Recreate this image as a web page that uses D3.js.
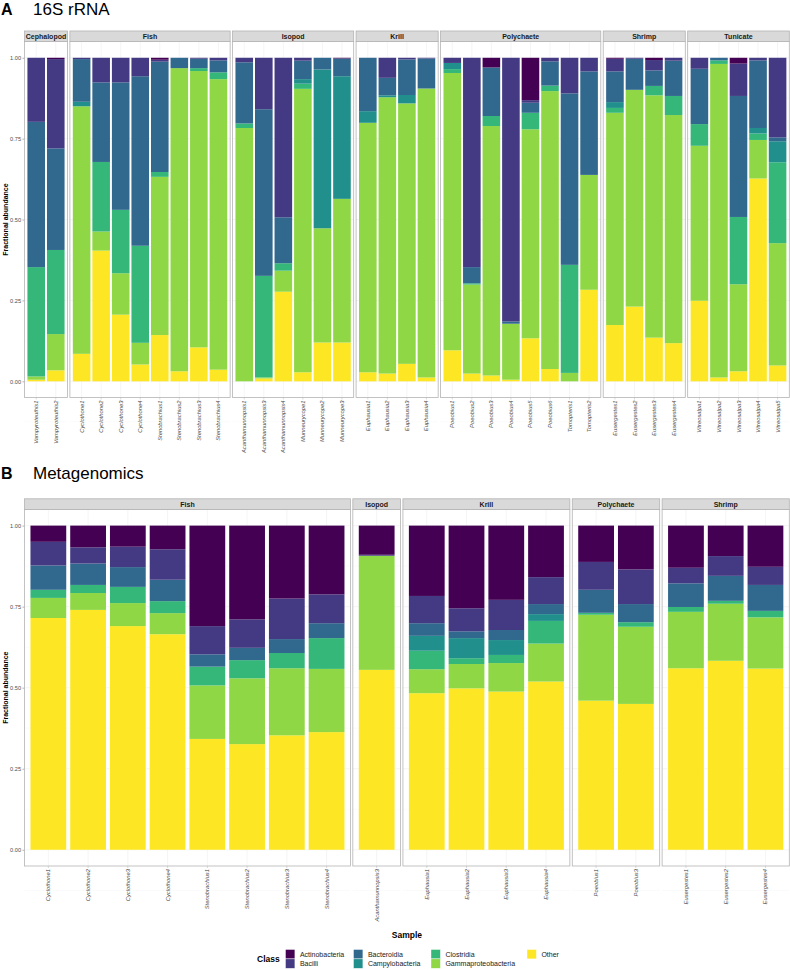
<!DOCTYPE html>
<html>
<head>
<meta charset="utf-8">
<script src="https://cdn.jsdelivr.net/npm/d3@7"></script>
<style>
  body { margin: 0; background: #fff; }
  svg { font-family: "Liberation Sans", Arial, Helvetica, sans-serif; }
</style>
</head>
<body>
<div id="main-frame"></div>
<script>
// classes, stacked top -> bottom
const classes = ["Actinobacteria", "Bacilli", "Bacteroidia", "Campylobacteria", "Clostridia", "Gammaproteobacteria", "Other"];
const classColors = ["#440154", "#443A83", "#31688E", "#21908C", "#35B779", "#8FD744", "#FDE725"];
const yTicks = [0, 0.25, 0.5, 0.75, 1];

// ---- A: 16S rRNA ----
const rnaSamples = ["Vampyroteuthis1", "Vampyroteuthis2",
  "Cyclothone1", "Cyclothone2", "Cyclothone3", "Cyclothone4", "Stenobrachius1", "Stenobrachius2", "Stenobrachius3", "Stenobrachius4",
  "Acanthamunnopsis1", "Acanthamunnopsis3", "Acanthamunnopsis4", "Munneurycope1", "Munneurycope2", "Munneurycope3",
  "Euphausia1", "Euphausia2", "Euphausia3", "Euphausia4",
  "Poeobius1", "Poeobius2", "Poeobius3", "Poeobius4", "Poeobius5", "Poeobius6", "Tomopteris1", "Tomopteris2",
  "Eusergestes1", "Eusergestes2", "Eusergestes3", "Eusergestes4",
  "Vitreosalpa1", "Vitreosalpa2", "Vitreosalpa3", "Vitreosalpa4", "Vitreosalpa5"];
const rnaHosts = ["Cephalopod", "Cephalopod",
  "Fish", "Fish", "Fish", "Fish", "Fish", "Fish", "Fish", "Fish",
  "Isopod", "Isopod", "Isopod", "Isopod", "Isopod", "Isopod",
  "Krill", "Krill", "Krill", "Krill",
  "Polychaete", "Polychaete", "Polychaete", "Polychaete", "Polychaete", "Polychaete", "Polychaete", "Polychaete",
  "Shrimp", "Shrimp", "Shrimp", "Shrimp",
  "Tunicate", "Tunicate", "Tunicate", "Tunicate", "Tunicate"];
const rnaActinobacteria = [0, 0.004, 0, 0, 0, 0, 0.006, 0, 0, 0, 0, 0, 0, 0, 0, 0.002, 0, 0, 0, 0,
  0, 0, 0.03, 0, 0.131, 0, 0, 0, 0.003, 0, 0.007, 0, 0, 0, 0.018, 0, 0];
const rnaBacilli = [0.198, 0.276, 0.004, 0.076, 0.076, 0.057, 0.006, 0, 0.003, 0.008, 0.014, 0.159, 0.493, 0.009, 0, 0,
  0, 0.062, 0.005, 0.002, 0.016, 0.647, 0, 0.815, 0.008, 0.011, 0.11, 0.042, 0.039, 0.003, 0.032, 0.009,
  0.034, 0, 0.1, 0.008, 0.246];
const rnaBacteroidia = [0.449, 0.314, 0.132, 0.246, 0.394, 0.524, 0.341, 0.032, 0.029, 0.037, 0.189, 0.515, 0.142, 0.057, 0.036, 0.055,
  0.165, 0.054, 0.11, 0.093, 0, 0.05, 0.15, 0.007, 0.031, 0.075, 0.53, 0.32, 0.095, 0.096, 0.048, 0.109,
  0.171, 0.008, 0.374, 0.209, 0.012];
const rnaCampylobacteria = [0, 0, 0.014, 0, 0, 0, 0, 0, 0, 0, 0, 0, 0, 0.014, 0.491, 0.379,
  0.036, 0.006, 0.026, 0, 0.019, 0, 0, 0, 0, 0, 0, 0, 0.018, 0, 0, 0,
  0, 0, 0, 0.017, 0.065];
const rnaClostridia = [0.338, 0.26, 0, 0.215, 0.196, 0.3, 0.015, 0, 0.009, 0.021, 0.014, 0.314, 0.023, 0.016, 0, 0,
  0, 0, 0, 0, 0.012, 0.004, 0.031, 0, 0.051, 0.017, 0.334, 0, 0.015, 0, 0.029, 0.059,
  0.067, 0.011, 0.208, 0.02, 0.25];
const rnaGammaproteobacteria = [0.01, 0.112, 0.765, 0.059, 0.128, 0.067, 0.489, 0.937, 0.854, 0.898, 0.783, 0.003, 0.065, 0.876, 0.353, 0.444,
  0.771, 0.854, 0.805, 0.893, 0.857, 0.275, 0.771, 0.173, 0.646, 0.859, 0.026, 0.355, 0.656, 0.67, 0.749, 0.705,
  0.479, 0.969, 0.269, 0.119, 0.378];
const rnaOther = [0.005, 0.034, 0.085, 0.404, 0.206, 0.052, 0.143, 0.031, 0.105, 0.036, 0, 0.009, 0.277, 0.028, 0.12, 0.12,
  0.028, 0.024, 0.054, 0.012, 0.096, 0.024, 0.018, 0.005, 0.133, 0.038, 0, 0.283, 0.174, 0.231, 0.135, 0.118,
  0.249, 0.012, 0.031, 0.627, 0.049];

// ---- B: Metagenomics ----
const mgSamples = ["Cyclothone1", "Cyclothone2", "Cyclothone3", "Cyclothone4", "Stenobrachius1", "Stenobrachius2", "Stenobrachius3", "Stenobrachius4",
  "Acanthamunnopsis3", "Euphausia1", "Euphausia2", "Euphausia3", "Euphausia4", "Poeobius1", "Poeobius3",
  "Eusergestes1", "Eusergestes2", "Eusergestes4"];
const mgHosts = ["Fish", "Fish", "Fish", "Fish", "Fish", "Fish", "Fish", "Fish",
  "Isopod", "Krill", "Krill", "Krill", "Krill", "Polychaete", "Polychaete", "Shrimp", "Shrimp", "Shrimp"];
const mgActinobacteria = [0.05, 0.067, 0.065, 0.073, 0.31, 0.289, 0.225, 0.212, 0.09, 0.217, 0.255, 0.229, 0.159, 0.112, 0.135, 0.13, 0.094, 0.127];
const mgBacilli = [0.073, 0.05, 0.063, 0.094, 0.087, 0.088, 0.125, 0.089, 0.003, 0.084, 0.071, 0.093, 0.083, 0.086, 0.107, 0.048, 0.061, 0.056];
const mgBacteroidia = [0.075, 0.066, 0.061, 0.066, 0.038, 0.038, 0.043, 0.046, 0, 0.039, 0.021, 0.031, 0.031, 0.071, 0.056, 0.073, 0.077, 0.08];
const mgCampylobacteria = [0, 0, 0, 0, 0, 0, 0, 0, 0, 0.046, 0.062, 0.046, 0.021, 0, 0, 0, 0, 0];
const mgClostridia = [0.025, 0.025, 0.05, 0.037, 0.058, 0.056, 0.047, 0.095, 0, 0.057, 0.018, 0.025, 0.07, 0.006, 0.014, 0.015, 0.009, 0.02];
const mgGammaproteobacteria = [0.062, 0.052, 0.071, 0.065, 0.165, 0.203, 0.207, 0.195, 0.352, 0.074, 0.075, 0.088, 0.117, 0.265, 0.238, 0.174, 0.176, 0.158];
const mgOther = [0.715, 0.74, 0.69, 0.665, 0.342, 0.326, 0.353, 0.363, 0.555, 0.483, 0.498, 0.488, 0.519, 0.46, 0.45, 0.56, 0.583, 0.559];

const width = 790, height = 970;
const plotLeft = 24.5, plotRight = 789.3;
const panelGap = 2.4, facetPad = 0.1;
const stripH = 10.6;

const color = d3.scaleOrdinal().domain(classes).range(classColors);

const svg = d3.select("#main-frame")
  .append("svg")
  .attr("width", width)
  .attr("height", height);

function drawPanel(cfg) {
  const { letter, title, titleY, samples, hosts, series, stripTop, panelBottom } = cfg;
  const panelTop = stripTop + stripH;

  const rows = samples.map((s, i) => {
    const r = { sample: s, host: hosts[i] };
    classes.forEach((c, j) => { r[c] = series[j][i]; });
    return r;
  });
  const stacked = d3.stack()
    .keys(classes.slice().reverse())
    .offset(d3.stackOffsetExpand)(rows);

  const groups = Array.from(d3.group(rows, d => d.host), ([host, v]) => ({ host, samples: v.map(d => d.sample) }));
  const k = groups.length;
  const step = (plotRight - plotLeft - panelGap * (k - 1)) / (samples.length + 2 * facetPad * k);

  const y = d3.scaleLinear().domain([-0.05, 1.05]).range([panelBottom, panelTop]);

  // panel title
  svg.append("text").attr("x", 1).attr("y", titleY)
    .attr("font-size", 16).attr("font-weight", "bold").text(letter);
  svg.append("text").attr("x", 33).attr("y", titleY)
    .attr("font-size", 17).text(title);

  // y axis
  const yAxis = svg.append("g")
    .attr("transform", `translate(${plotLeft},0)`)
    .call(d3.axisLeft(y).tickValues(yTicks).tickFormat(d3.format(".2f")).tickSize(2).tickPadding(1.5));
  yAxis.select(".domain").remove();
  yAxis.selectAll(".tick line").attr("stroke", "#b3b3b3");
  yAxis.selectAll(".tick text").attr("fill", "#4d4d4d").attr("font-size", 5.6).attr("font-family", "Liberation Sans, Arial, sans-serif");

  svg.append("text")
    .attr("transform", `translate(8,${(panelTop + panelBottom) / 2}) rotate(-90)`)
    .attr("text-anchor", "middle")
    .attr("font-size", 7).attr("font-weight", "bold")
    .text("Fractional abundance");

  let x0 = plotLeft;
  groups.forEach(grp => {
    const fw = (grp.samples.length + 2 * facetPad) * step;
    const x = d3.scaleBand().domain(grp.samples).range([x0, x0 + fw])
      .paddingInner(0.1).paddingOuter(facetPad + 0.05);
    const g = svg.append("g");

    // grid
    const minor = [-0.125, 0.125, 0.375, 0.625, 0.875];
    g.selectAll(".gmin").data(minor).enter().append("line")
      .attr("x1", x0).attr("x2", x0 + fw)
      .attr("y1", d => y(d)).attr("y2", d => y(d))
      .attr("stroke", "#f2f2f2").attr("stroke-width", 0.3);
    g.selectAll(".gmaj").data(yTicks).enter().append("line")
      .attr("x1", x0).attr("x2", x0 + fw)
      .attr("y1", d => y(d)).attr("y2", d => y(d))
      .attr("stroke", "#ebebeb").attr("stroke-width", 0.5);
    g.selectAll(".gx").data(grp.samples).enter().append("line")
      .attr("x1", d => x(d) + x.bandwidth() / 2).attr("x2", d => x(d) + x.bandwidth() / 2)
      .attr("y1", panelTop).attr("y2", panelBottom)
      .attr("stroke", "#ebebeb").attr("stroke-width", 0.5);

    // bars
    stacked.forEach(layer => {
      g.selectAll(null)
        .data(layer.filter(d => d.data.host === grp.host))
        .enter().append("rect")
        .attr("x", d => x(d.data.sample))
        .attr("width", x.bandwidth())
        .attr("y", d => y(d[1]))
        .attr("height", d => Math.max(0, y(d[0]) - y(d[1])))
        .attr("fill", color(layer.key));
    });

    // panel border
    g.append("rect")
      .attr("x", x0).attr("y", panelTop)
      .attr("width", fw).attr("height", panelBottom - panelTop)
      .attr("fill", "none").attr("stroke", "#b3b3b3").attr("stroke-width", 0.8);

    // strip
    g.append("rect")
      .attr("x", x0).attr("y", stripTop)
      .attr("width", fw).attr("height", stripH)
      .attr("fill", "#d9d9d9").attr("stroke", "#b3b3b3").attr("stroke-width", 0.8);
    g.append("text")
      .attr("x", x0 + fw / 2).attr("y", stripTop + stripH / 2)
      .attr("dy", "0.35em").attr("text-anchor", "middle")
      .attr("font-size", 7).attr("font-weight", "bold").attr("fill", "#1a1a1a")
      .text(grp.host);

    // x ticks and labels
    g.selectAll(".xt").data(grp.samples).enter().append("line")
      .attr("x1", d => x(d) + x.bandwidth() / 2).attr("x2", d => x(d) + x.bandwidth() / 2)
      .attr("y1", panelBottom).attr("y2", panelBottom + 2)
      .attr("stroke", "#b3b3b3").attr("stroke-width", 0.5);
    g.selectAll(".xl").data(grp.samples).enter().append("text")
      .attr("transform", d => `translate(${x(d) + x.bandwidth() / 2},${panelBottom + 3}) rotate(-90)`)
      .attr("text-anchor", "end").attr("dy", "0.35em")
      .attr("font-size", 5.8).attr("font-style", "italic").attr("fill", "#4d4d4d")
      .text(d => d);

    x0 += fw + panelGap;
  });
}

drawPanel({
  letter: "A", title: "16S rRNA", titleY: 15,
  samples: rnaSamples, hosts: rnaHosts,
  series: [rnaActinobacteria, rnaBacilli, rnaBacteroidia, rnaCampylobacteria, rnaClostridia, rnaGammaproteobacteria, rnaOther],
  stripTop: 31, panelBottom: 397.5
});

drawPanel({
  letter: "B", title: "Metagenomics", titleY: 479,
  samples: mgSamples, hosts: mgHosts,
  series: [mgActinobacteria, mgBacilli, mgBacteroidia, mgCampylobacteria, mgClostridia, mgGammaproteobacteria, mgOther],
  stripTop: 498.8, panelBottom: 866
});

// x axis title
svg.append("text")
  .attr("x", (plotLeft + plotRight) / 2).attr("y", 935)
  .attr("dy", "0.35em").attr("text-anchor", "middle")
  .attr("font-size", 8.5).attr("font-weight", "bold")
  .text("Sample");

// legend
const legend = svg.append("g");
legend.append("text")
  .attr("x", 257).attr("y", 959).attr("dy", "0.35em")
  .attr("font-size", 8.5).attr("font-weight", "bold").text("Class");
const legendCols = [285.5, 353.5, 431, 527];
const keySize = 9.4;
classes.forEach((c, i) => {
  const col = Math.floor(i / 2), row = i % 2;
  const kx = legendCols[col], ky = 949.5 + row * keySize;
  legend.append("rect")
    .attr("x", kx).attr("y", ky).attr("width", keySize).attr("height", keySize)
    .attr("fill", color(c)).attr("stroke", "#fff").attr("stroke-width", 0.4);
  legend.append("text")
    .attr("x", kx + keySize + 5).attr("y", ky + keySize / 2).attr("dy", "0.35em")
    .attr("font-size", 7).attr("fill", "#1a1a1a").text(c);
});
</script>
</body>
</html>
